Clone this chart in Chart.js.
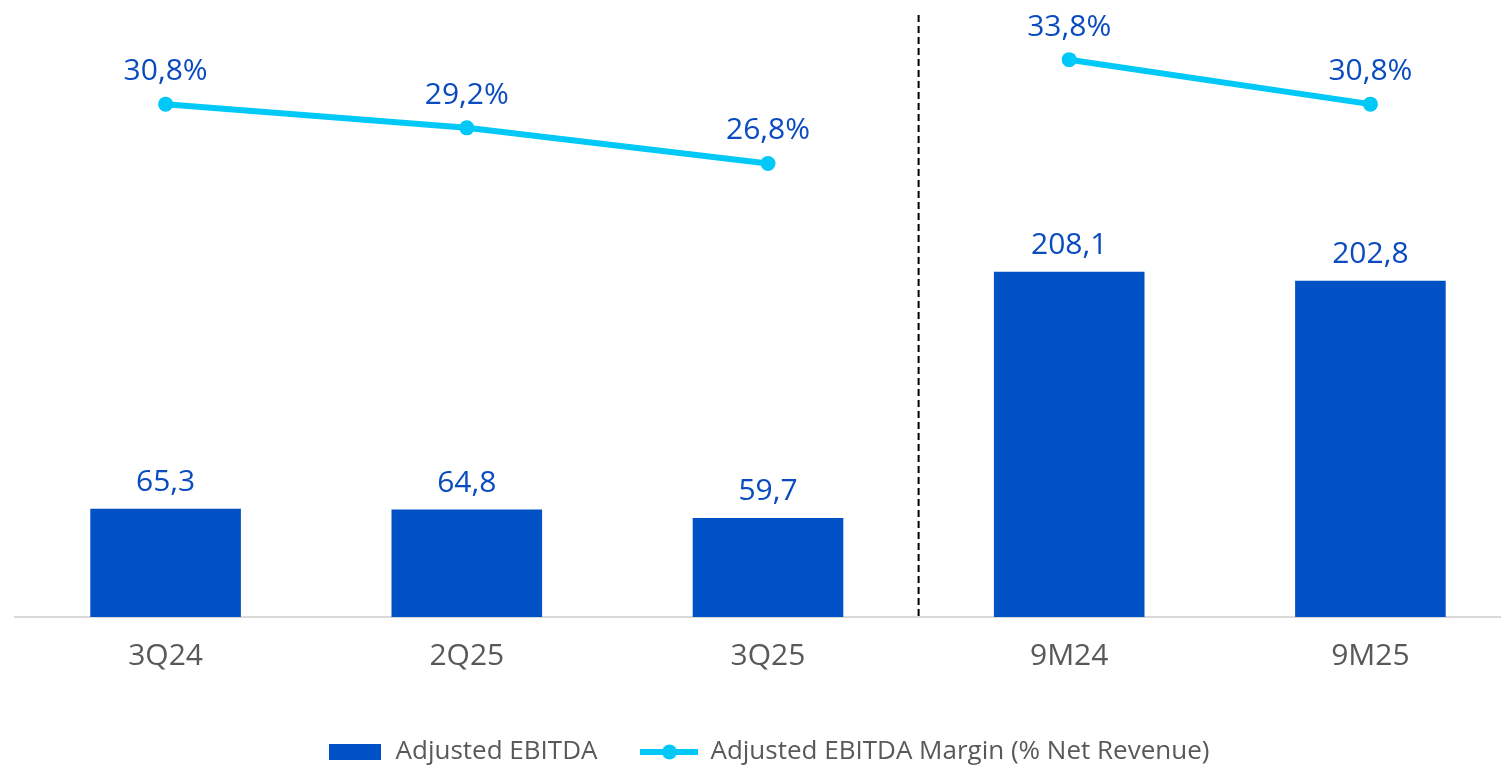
<!DOCTYPE html>
<html>
<head>
<meta charset="utf-8">
<script src="https://cdn.jsdelivr.net/npm/chart.js@4.4.1/dist/chart.umd.min.js"></script>
<style>
  html, body { margin: 0; padding: 0; background: #fff; overflow: hidden; }
  #wrap { width: 1545px; height: 765px; }
</style>
</head>
<body>
<div id="wrap"><canvas id="ebitdaChart" width="1545" height="765"></canvas></div>
<script>
// Periods and values
const periods = ['3Q24', '2Q25', '3Q25', '9M24', '9M25'];
const ebitda = [65.3, 64.8, 59.7, 208.1, 202.8];
const margin = [30.8, 29.2, 26.8, 33.8, 30.8];
const seriesNames = ['Adjusted EBITDA', 'Adjusted EBITDA Margin (% Net Revenue)'];

const BAR_BLUE = '#0051C6';
const LINE_CYAN = '#00C8F7';
const LABEL_BLUE = '#0A4BBF';
const GREY_TEXT = '#595959';
const FONT = '"Open Sans", sans-serif';

function fmt(v) {
    return v.toFixed(1).replace('.', ',');
}

// legend swatches drawn on small canvases
function barSwatch() {
    const c = document.createElement('canvas');
    c.width = 52; c.height = 16;
    const g = c.getContext('2d');
    g.fillStyle = BAR_BLUE;
    g.fillRect(0, 0, 52, 16);
    return c;
}
function lineSwatch() {
    const c = document.createElement('canvas');
    c.width = 58; c.height = 16;
    const g = c.getContext('2d');
    g.strokeStyle = LINE_CYAN;
    g.lineWidth = 6;
    g.beginPath(); g.moveTo(0, 8); g.lineTo(58, 8); g.stroke();
    g.fillStyle = LINE_CYAN;
    g.beginPath(); g.arc(29, 8, 7.5, 0, Math.PI * 2); g.fill();
    return c;
}

// value labels above bars and points
const valueLabels = {
    id: 'valueLabels',
    afterDatasetsDraw(chart) {
        const ctx = chart.ctx;
        ctx.save();
        ctx.font = '30px ' + FONT;
        ctx.fillStyle = LABEL_BLUE;
        ctx.textAlign = 'center';
        ctx.textBaseline = 'alphabetic';
        chart.data.datasets.forEach((ds, i) => {
            const meta = chart.getDatasetMeta(i);
            meta.data.forEach((el, j) => {
                if (ds.type === 'line') {
                    ctx.fillText(fmt(ds.data[j]) + '%', el.x, el.y - 24);
                } else {
                    ctx.fillText(fmt(ds.data[j]), el.x, el.y - 18);
                }
            });
        });
        ctx.restore();
    }
};

// dashed divider between quarters and 9M figures
const divider = {
    id: 'divider',
    beforeDatasetsDraw(chart) {
        const x = chart.scales.x;
        const px = (x.getPixelForValue(2) + x.getPixelForValue(3)) / 2;
        const ctx = chart.ctx;
        ctx.save();
        ctx.strokeStyle = '#000';
        ctx.lineWidth = 2;
        ctx.setLineDash([7, 4]);
        ctx.beginPath();
        ctx.moveTo(px, 15);
        ctx.lineTo(px, chart.chartArea.bottom);
        ctx.stroke();
        ctx.restore();
    }
};

const ctx = document.getElementById('ebitdaChart').getContext('2d');
new Chart(ctx, {
    data: {
        labels: periods,
        datasets: [
            {
                type: 'line',
                label: seriesNames[1],
                data: margin,
                yAxisID: 'y2',
                borderColor: LINE_CYAN,
                backgroundColor: LINE_CYAN,
                borderWidth: 6,
                pointRadius: 7.5,
                pointHoverRadius: 7.5,
                pointBorderWidth: 0,
                tension: 0,
                // no segment across the quarter / 9M divider
                segment: {
                    borderColor: c => c.p0DataIndex === 2 ? 'rgba(0,0,0,0)' : undefined
                },
                order: 0
            },
            {
                type: 'bar',
                label: seriesNames[0],
                data: ebitda,
                yAxisID: 'y',
                backgroundColor: BAR_BLUE,
                borderWidth: 0,
                barPercentage: 1,
                categoryPercentage: 0.5,
                order: 1
            }
        ]
    },
    options: {
        responsive: false,
        animation: false,
        layout: { padding: { left: 15, right: 24, top: 0, bottom: -10 } },
        plugins: {
            tooltip: { enabled: false },
            legend: {
                position: 'bottom',
                labels: {
                    usePointStyle: true,
                    pointStyleWidth: 56,
                    padding: 44,
                    color: GREY_TEXT,
                    font: { family: FONT, size: 26 },
                    generateLabels(chart) {
                        return chart.data.datasets.map((ds, i) => ({
                            text: ds.label,
                            pointStyle: ds.type === 'line' ? lineSwatch() : barSwatch(),
                            fillStyle: ds.backgroundColor,
                            strokeStyle: ds.backgroundColor,
                            lineWidth: 0,
                            fontColor: GREY_TEXT,
                            datasetIndex: i,
                            hidden: false
                        })).reverse();
                    }
                }
            }
        },
        scales: {
            x: {
                grid: { display: false, drawTicks: false },
                border: { display: true, color: '#D9D9D9', width: 2 },
                ticks: {
                    color: GREY_TEXT,
                    padding: 21,
                    font: { family: FONT, size: 30 }
                }
            },
            y: { display: false, min: 0, max: 367.5 },
            y2: { display: false, min: -3.8, max: 37.32 }
        }
    },
    plugins: [valueLabels, divider]
});
</script>
</body>
</html>
